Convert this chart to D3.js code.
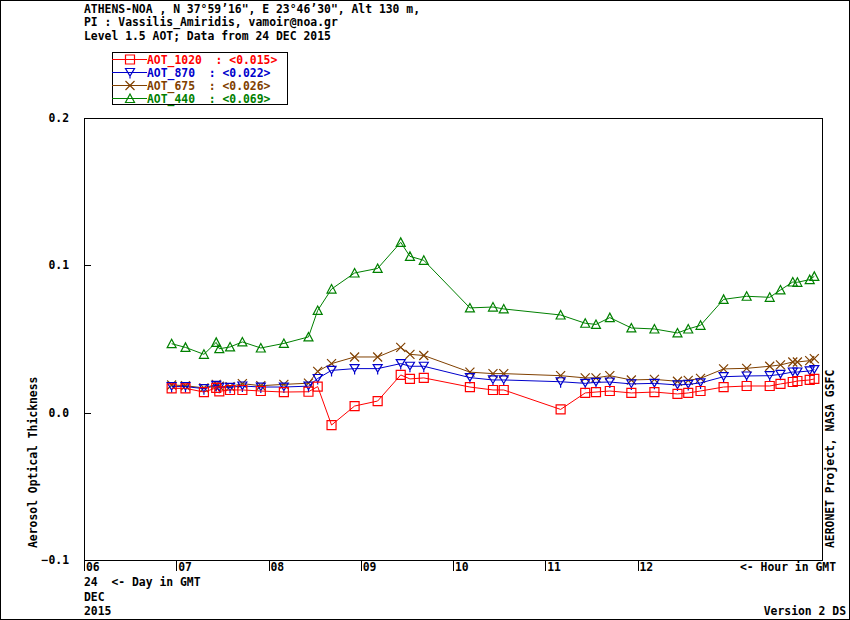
<!DOCTYPE html>
<html>
<head>
<meta charset="utf-8">
<script src="https://cdn.jsdelivr.net/npm/d3@7"></script>
<style>
  body { margin: 0; background: #fff; }
  text { font-family: "DejaVu Sans Mono", "Liberation Mono", monospace; font-weight: bold; font-size: 11.4px; }
</style>
</head>
<body>
<div id="chart"></div>
<script>
// measurement times (GMT, 24 DEC 2015)
var times = ["06:57","07:06","07:18","07:26","07:28","07:35","07:43","07:55","08:10","08:26",
             "08:32","08:41","08:56","09:11","09:26","09:32","09:41","10:11","10:26","10:33",
             "11:10","11:26","11:33","11:42","11:56","12:11","12:26","12:33","12:41","12:56",
             "13:11","13:26","13:33","13:41","13:44","13:52","13:55"];

var aot1020 = [0.0165,0.0165,0.0140,0.0168,0.0145,0.0154,0.0154,0.0147,0.0140,0.0142,
               0.0177,-0.0084,0.0045,0.0079,0.0256,0.0229,0.0236,0.0174,0.0154,0.0154,
               0.0022,0.0134,0.0140,0.0147,0.0134,0.0140,0.0127,0.0134,0.0147,0.0174,
               0.0181,0.0181,0.0195,0.0208,0.0215,0.0222,0.0229];

var aot870  = [0.0177,0.0177,0.0163,0.0185,0.0172,0.0172,0.0181,0.0174,0.0174,0.0180,
               0.0232,0.0287,0.0299,0.0299,0.0333,0.0315,0.0315,0.0238,0.0222,0.0222,
               0.0210,0.0199,0.0206,0.0208,0.0195,0.0199,0.0188,0.0192,0.0202,0.0244,
               0.0249,0.0251,0.0260,0.0276,0.0276,0.0283,0.0292];

var aot675  = [0.0188,0.0183,0.0168,0.0192,0.0179,0.0177,0.0197,0.0183,0.0192,0.0200,
               0.0280,0.0333,0.0378,0.0378,0.0443,0.0396,0.0388,0.0275,0.0265,0.0265,
               0.0251,0.0236,0.0236,0.0251,0.0222,0.0226,0.0213,0.0219,0.0233,0.0297,
               0.0301,0.0315,0.0324,0.0344,0.0344,0.0353,0.0367];

var aot440  = [0.0468,0.0443,0.0396,0.0477,0.0434,0.0446,0.0480,0.0439,0.0470,0.0514,
               0.0694,0.0839,0.0948,0.0979,0.1156,0.1061,0.1034,0.0711,0.0717,0.0704,
               0.0663,0.0607,0.0599,0.0645,0.0575,0.0568,0.0541,0.0568,0.0593,0.0769,
               0.0790,0.0783,0.0833,0.0887,0.0885,0.0903,0.0925];

var seriesNames = ["AOT_1020","AOT_870","AOT_675","AOT_440"];
var seriesMeans = ["0.015","0.022","0.026","0.069"];
var yTicks = [-0.1, 0.0, 0.1, 0.2];
var hourTicks = ["06","07","08","09","10","11","12"];

var titleLines = [
    "ATHENS-NOA , N 37\u00b059\u201916\", E 23\u00b046\u201930\", Alt 130 m,",
    "PI : Vassilis_Amiridis, vamoir@noa.gr",
    "Level 1.5 AOT; Data from 24 DEC 2015"
];

var elementWidth = 850, elementHeight = 620;
var margin = {left: 84, right: 28, top: 118, bottom: 60};
var width = elementWidth - margin.left - margin.right,
    height = elementHeight - margin.top - margin.bottom;

var colors = ["#ff0000", "#0000cc", "#804000", "#008000"];
var markers = [
    "M-4.5,-4.5h9v9h-9Z",                         // square
    "M-4.5,-4L4.5,-4L0,3.5ZM0,3.5V6",             // down triangle
    "M-4.5,-4.5L4.5,4.5M-4.5,4.5L4.5,-4.5",       // cross
    "M0,-4.5L4.5,4L-4.5,4Z"                       // up triangle
];

var svg = d3.select("#chart")
    .append("svg")
    .attr("width", elementWidth)
    .attr("height", elementHeight);

// outer frame
svg.append("rect")
    .attr("x", 0.5).attr("y", 0.5)
    .attr("width", elementWidth - 1).attr("height", elementHeight - 1)
    .attr("fill", "none").attr("stroke", "#000")
    .attr("shape-rendering", "crispEdges");

var parseTime = d3.timeParse("%H:%M");

var x = d3.scaleTime()
    .domain([parseTime("06:00"), parseTime("14:00")])
    .range([0, width]);

var y = d3.scaleLinear()
    .domain([-0.1, 0.2])
    .range([height, 0]);

var g = svg.append("g").attr("transform", "translate(" + margin.left + "," + margin.top + ")");

// title
svg.append("g").selectAll("text")
    .data(titleLines)
    .enter().append("text")
    .attr("x", 84)
    .attr("y", function(d, i) { return 9 + i * 13.3; })
    .attr("dy", "0.36em")
    .text(function(d) { return d; });

// plot box
g.append("rect")
    .attr("x", 0.5).attr("y", 0.5)
    .attr("width", width).attr("height", height)
    .attr("fill", "none").attr("stroke", "#000")
    .attr("stroke-width", 1.2)
    .attr("shape-rendering", "crispEdges");

// y axis (ticks inward)
var yAxis = g.append("g")
    .call(d3.axisLeft(y).tickValues(yTicks).tickSize(-7).tickPadding(15)
        .tickFormat(function(d) { return d3.format(".1f")(d); }));
yAxis.select(".domain").remove();
yAxis.selectAll("line").attr("stroke", "#000").attr("shape-rendering", "crispEdges");
yAxis.selectAll("text").attr("font-size", null).attr("font-family", null).attr("fill", "#000");

// x axis (ticks downward, labels to the right of the tick)
var xAxis = g.append("g")
    .attr("transform", "translate(0," + height + ")")
    .call(d3.axisBottom(x)
        .tickValues(hourTicks.map(function(h) { return parseTime(h + ":00"); }))
        .tickSize(11)
        .tickFormat(d3.timeFormat("%H")));
xAxis.select(".domain").remove();
xAxis.selectAll("line").attr("stroke", "#000").attr("shape-rendering", "crispEdges");
xAxis.selectAll("text")
    .attr("font-size", null).attr("font-family", null).attr("fill", "#000")
    .attr("text-anchor", "start")
    .attr("x", 1.5).attr("y", 7).attr("dy", "0.36em");

// data lines
var seriesValues = [aot1020, aot870, aot675, aot440];
var order = [3, 2, 1, 0];

order.forEach(function(k) {
    var data = times.map(function(t, i) { return {time: t, value: seriesValues[k][i]}; });
    var line = d3.line()
        .x(function(d) { return x(parseTime(d.time)); })
        .y(function(d) { return y(d.value); });

    g.append("path")
        .datum(data)
        .attr("fill", "none")
        .attr("stroke", colors[k])
        .attr("stroke-width", 1)
        .attr("d", line);

    g.append("g").selectAll("path")
        .data(data)
        .enter().append("path")
        .attr("transform", function(d) {
            return "translate(" + x(parseTime(d.time)) + "," + y(d.value) + ")";
        })
        .attr("d", markers[k])
        .attr("fill", "none")
        .attr("stroke", colors[k])
        .attr("stroke-width", 1.2);
});

// legend
var legend = svg.append("g").attr("transform", "translate(112,52)");
legend.append("rect")
    .attr("x", 0.5).attr("y", 0.5)
    .attr("width", 175).attr("height", 52)
    .attr("fill", "#fff").attr("stroke", "#000")
    .attr("shape-rendering", "crispEdges");

seriesNames.forEach(function(name, k) {
    var ry = 7.5 + k * 13;
    legend.append("line")
        .attr("x1", 0).attr("x2", 35)
        .attr("y1", ry).attr("y2", ry)
        .attr("stroke", colors[k]);
    legend.append("path")
        .attr("transform", "translate(18," + ry + ")")
        .attr("d", markers[k])
        .attr("fill", "none")
        .attr("stroke", colors[k])
        .attr("stroke-width", 1.2);
    var pad = name.length === 8 ? "  " : "  ";
    legend.append("text")
        .attr("x", 35).attr("y", ry)
        .attr("dy", "0.36em")
        .attr("fill", colors[k])
        .attr("xml:space", "preserve")
        .style("white-space", "pre")
        .text(name + pad + ": <" + seriesMeans[k] + ">");
});

// side labels
svg.append("text")
    .attr("transform", "translate(33,548) rotate(-90)")
    .attr("dy", "0.36em")
    .text("Aerosol Optical Thickness");

svg.append("text")
    .attr("transform", "translate(830,548) rotate(-90)")
    .attr("dy", "0.36em")
    .text("AERONET Project, NASA GSFC");

// bottom labels
svg.append("text")
    .attr("x", 836).attr("y", 567).attr("dy", "0.36em")
    .attr("text-anchor", "end")
    .text("<- Hour in GMT");

svg.append("text")
    .attr("x", 84).attr("y", 582).attr("dy", "0.36em")
    .style("white-space", "pre")
    .text("24  <- Day in GMT");

svg.append("text")
    .attr("x", 84).attr("y", 597).attr("dy", "0.36em")
    .text("DEC");

svg.append("text")
    .attr("x", 84).attr("y", 611).attr("dy", "0.36em")
    .text("2015");

svg.append("text")
    .attr("x", 846).attr("y", 611).attr("dy", "0.36em")
    .attr("text-anchor", "end")
    .text("Version 2 DS");
</script>
</body>
</html>
